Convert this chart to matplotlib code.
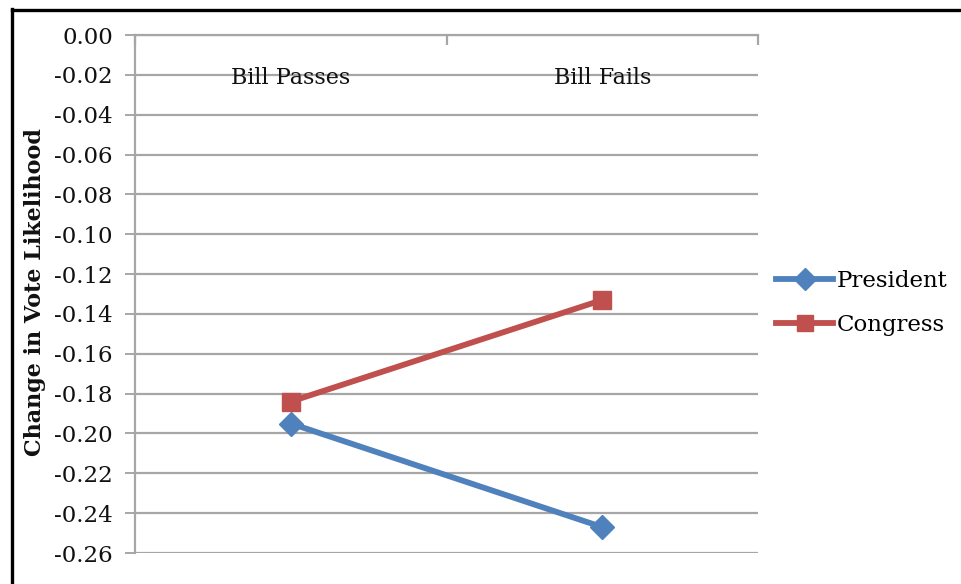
import matplotlib
matplotlib.use("Agg")
import matplotlib.pyplot as plt
from matplotlib.lines import Line2D

categories = ["Bill Passes", "Bill Fails"]
president = [-0.195, -0.247]
congress = [-0.184, -0.133]
y_ticks = [0.00, -0.02, -0.04, -0.06, -0.08, -0.10, -0.12, -0.14,
           -0.16, -0.18, -0.20, -0.22, -0.24, -0.26]
y_tick_labels = ["0.00", "-0.02", "-0.04", "-0.06", "-0.08", "-0.10", "-0.12",
                 "-0.14", "-0.16", "-0.18", "-0.20", "-0.22", "-0.24", "-0.26"]

plt.rcParams["font.family"] = ["DejaVu Serif"]
BLUE = "#4F81BD"
RED = "#C0504D"
GRID = "#A6A6A6"

W, H = 961, 584
fig = plt.figure(figsize=(W / 100, H / 100), dpi=100)
ax = fig.add_axes([135 / W, 1 - 553 / H, (758 - 135) / W, (553 - 35) / H])

x = list(range(len(categories)))
ax.plot(x, president, color=BLUE, lw=4.2, marker="D", ms=12,
        solid_capstyle="round", zorder=3)
ax.plot(x, congress, color=RED, lw=4.2, marker="s", ms=13,
        solid_capstyle="round", zorder=3)

ax.set_xlim(-0.5, len(categories) - 0.5)
ax.set_ylim(min(y_ticks), max(y_ticks))
ax.set_yticks(y_ticks, y_tick_labels)
ax.yaxis.grid(True, color=GRID, lw=1.6)
ax.set_axisbelow(True)
ax.tick_params(axis="y", direction="out", length=7, width=1.4, color=GRID,
               labelsize=16.5, pad=9, labelcolor="#111111")

# category axis sits at the top; boundary ticks point down into the plot
ax.set_xticks([i - 0.5 for i in range(len(categories) + 1)])
ax.set_xticklabels([])
ax.xaxis.set_ticks_position("top")
ax.tick_params(axis="x", direction="in", length=7, width=1.6, color=GRID)
for i, c in enumerate(categories):
    ax.text(i, 1 - 43 / 518, c, transform=ax.get_xaxis_transform(),
            ha="center", va="center", fontsize=16, color="#111111")

for s in ["right", "bottom"]:
    ax.spines[s].set_visible(False)
for s in ["left", "top"]:
    ax.spines[s].set_color(GRID)
    ax.spines[s].set_linewidth(1.6)

fig.text(35 / W, 1 - 292 / H, "Change in Vote Likelihood", rotation=90,
         ha="center", va="center", fontsize=16, fontweight="bold",
         color="#111111")

handles = [Line2D([], [], color=BLUE, lw=4.2, marker="D", ms=11),
           Line2D([], [], color=RED, lw=4.2, marker="s", ms=12)]
fig.legend(handles, ["President", "Congress"], loc="center left",
           bbox_to_anchor=(776 / W, 1 - 303 / H), frameon=False,
           fontsize=16.5, handlelength=2.5, handletextpad=0.15,
           labelspacing=0.98, borderaxespad=0, borderpad=0)

# outer frame (top and left edges)
fig.add_artist(Line2D([11.5 / W, 1.0], [1 - 10 / H, 1 - 10 / H],
                      transform=fig.transFigure, color="black", lw=2.4))
fig.add_artist(Line2D([12 / W, 12 / W], [0, 1 - 9 / H],
                      transform=fig.transFigure, color="black", lw=2.4))

fig.savefig("out.png", dpi=100, facecolor="white")
